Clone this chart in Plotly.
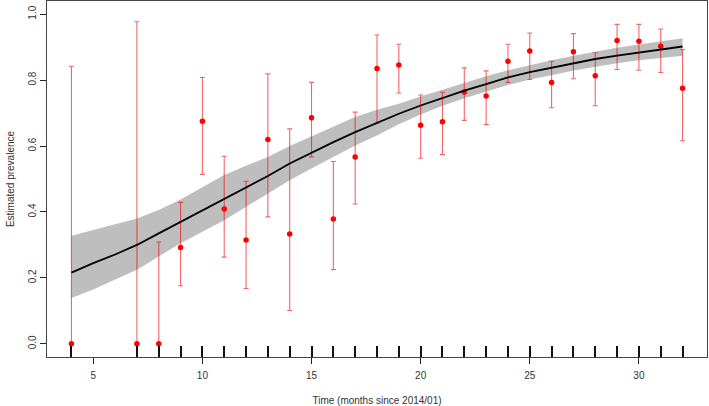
import plotly.graph_objects as go

# --- observed monthly prevalence with intervals ---
obs_month = [4, 7, 8, 9, 10, 11, 12, 13, 14, 15, 16, 17, 18, 19, 20, 21, 22, 23, 24, 25, 26, 27, 28, 29, 30, 31, 32]
obs_prev = [0.0, 0.0, 0.0, 0.292, 0.675, 0.409, 0.315, 0.620, 0.333, 0.686, 0.379, 0.567, 0.835, 0.846,
            0.663, 0.674, 0.764, 0.752, 0.857, 0.888, 0.793, 0.886, 0.813, 0.920, 0.918, 0.903, 0.775]
obs_hi = [0.842, 0.977, 0.309, 0.429, 0.808, 0.569, 0.493, 0.819, 0.652, 0.793, 0.553, 0.703, 0.937, 0.909,
          0.755, 0.763, 0.837, 0.828, 0.909, 0.943, 0.857, 0.941, 0.883, 0.969, 0.969, 0.955, 0.893]
obs_lo = [0.0, 0.0, 0.0, 0.176, 0.514, 0.263, 0.168, 0.385, 0.101, 0.567, 0.225, 0.424, 0.670, 0.761,
          0.563, 0.574, 0.678, 0.665, 0.793, 0.802, 0.716, 0.804, 0.722, 0.832, 0.830, 0.823, 0.616]

# --- fitted curve and credible band ---
fit_month = list(range(4, 33))
fit_mid = [0.216, 0.245, 0.271, 0.300, 0.335, 0.370, 0.405, 0.441, 0.475, 0.509, 0.547, 0.580, 0.612, 0.642,
           0.670, 0.698, 0.723, 0.746, 0.768, 0.788, 0.808, 0.824, 0.837, 0.851, 0.864, 0.874, 0.884, 0.894, 0.902]
fit_hi = [0.328, 0.345, 0.362, 0.380, 0.406, 0.438, 0.475, 0.512, 0.540, 0.567, 0.600, 0.630, 0.660, 0.688,
          0.710, 0.728, 0.750, 0.771, 0.792, 0.812, 0.830, 0.846, 0.860, 0.874, 0.887, 0.898, 0.908, 0.917, 0.927]
fit_lo = [0.139, 0.165, 0.195, 0.225, 0.265, 0.305, 0.340, 0.375, 0.415, 0.456, 0.496, 0.532, 0.568, 0.602,
          0.632, 0.666, 0.696, 0.722, 0.745, 0.765, 0.785, 0.802, 0.815, 0.829, 0.841, 0.851, 0.860, 0.868, 0.874]

x_ticks = [5, 10, 15, 20, 25, 30]
y_ticks = [0.0, 0.2, 0.4, 0.6, 0.8, 1.0]

xr = [2.88, 33.12]
yr = [-0.04, 1.04]

fig = go.Figure()

# band
fig.add_trace(go.Scatter(x=fit_month + fit_month[::-1], y=fit_hi + fit_lo[::-1],
                         fill="toself", fillcolor="#bebebe", line=dict(width=0),
                         mode="lines", hoverinfo="skip"))

# observed points with error bars
fig.add_trace(go.Scatter(
    x=obs_month, y=obs_prev, mode="markers",
    marker=dict(color="#ff0000", size=5.5),
    error_y=dict(type="data", symmetric=False,
                 array=[h - p for h, p in zip(obs_hi, obs_prev)],
                 arrayminus=[p - l for p, l in zip(obs_prev, obs_lo)],
                 color="rgba(235,0,0,0.6)", thickness=1.1, width=2.5)))

# fitted line
fig.add_trace(go.Scatter(x=fit_month, y=fit_mid, mode="lines",
                         line=dict(color="black", width=1.8)))

# rug ticks at observation months (inside, along the bottom)
fig.add_trace(go.Scatter(x=obs_month, y=[None] * len(obs_month), xaxis="x2",
                         mode="markers", hoverinfo="skip"))

axis_font = dict(family="Liberation Sans, Arial", size=10, color="#333")

fig.update_layout(
    width=709, height=406,
    margin=dict(l=47, r=2, t=1, b=49),
    paper_bgcolor="white", plot_bgcolor="white",
    showlegend=False,
    font=axis_font,
    xaxis=dict(range=xr, tickvals=x_ticks, ticks="outside", ticklen=6, tickcolor="#222",
               showgrid=False, zeroline=False, showline=True, mirror=True, automargin=False,
               linecolor="#444", linewidth=1, tickfont=axis_font, ticklabelstandoff=3,
               title=dict(text="Time (months since 2014/01)", font=axis_font, standoff=18)),
    xaxis2=dict(range=xr, overlaying="x", side="bottom", tickvals=obs_month,
                ticks="inside", ticklen=11, tickwidth=1.5, tickcolor="#111", automargin=False,
                showticklabels=False, showgrid=False, zeroline=False, showline=False),
    yaxis=dict(range=yr, tickvals=y_ticks, ticktext=["0.0", "0.2", "0.4", "0.6", "0.8", "1.0"],
               tickangle=-90, ticks="outside", ticklen=6, tickcolor="#222", automargin=False,
               showgrid=False, zeroline=False, showline=True, mirror=True,
               linecolor="#444", linewidth=1, tickfont=axis_font,
               title=dict(text="Estimated prevalence", font=axis_font, standoff=10)),
)

fig.write_html("out.html", config={"displayModeBar": False},
               post_script="document.body.style.margin='0';")
